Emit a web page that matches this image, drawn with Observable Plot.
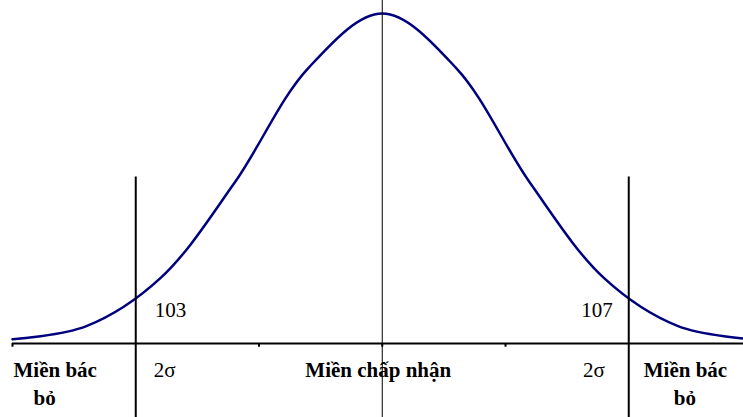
<!DOCTYPE html>
<html><head><meta charset="utf-8">
<script src="https://cdn.jsdelivr.net/npm/d3@7"></script>
<script src="https://cdn.jsdelivr.net/npm/@observablehq/plot@0.6"></script>
<style>html,body{margin:0;padding:0;background:#fff}</style>
</head><body><div id="chart"></div>
<script>
const xs = [102, 102.6, 103.2, 103.8, 104.4, 105, 105.6, 106.2, 106.8, 107.4, 108];
const ys = [0.005, 0.021, 0.079, 0.194, 0.333, 0.399, 0.333, 0.194, 0.079, 0.021, 0.005];
const limits = [103, 107];
const limitLabels = ["103", "107"];
const sigmaLabels = ["2σ", "2σ"];
const tickValues = [102, 104, 105, 106, 108];
const center = 105;
const rejectLine1 = "Miền bác";
const rejectLine2 = "bỏ";
const acceptLabel = "Miền chấp nhận";

const curve = xs.map((x, i) => ({x, y: ys[i]}));

const serif = "'Liberation Serif', 'Times New Roman', serif";

const chart = Plot.plot({
  width: 743,
  height: 417,
  margin: 0,
  x: {domain: [102, 108], range: [12, 751.5], axis: null},
  y: {domain: [0, 0.399], range: [343, 13], axis: null},
  style: {fontFamily: serif, fontSize: "21px", background: "#fff", overflow: "hidden"},
  marks: [
    Plot.line(curve, {x: "x", y: "y", curve: "catmull-rom", stroke: "#00007f", strokeWidth: 2.5}),
    Plot.ruleY([0], {x1: 102, x2: 108, stroke: "#000", strokeWidth: 2}),
    Plot.ruleX(tickValues, {y1: 0, y2: -0.0045, stroke: "#000", strokeWidth: 2}),
    Plot.ruleX([center], {y1: -0.2, y2: 0.5, stroke: "#000", strokeWidth: 1}),
    Plot.ruleX(limits, {y1: -0.2, y2: 0.2013, stroke: "#000", strokeWidth: 2}),
    // limit values
    Plot.text([limitLabels[0]], {x: limits[0], y: 0, dx: 19, dy: -33, textAnchor: "start", fill: "#000"}),
    Plot.text([limitLabels[1]], {x: limits[1], y: 0, dx: -16, dy: -33, textAnchor: "end", fill: "#000"}),
    // 2 sigma
    Plot.text([sigmaLabels[0]], {x: limits[0], y: 0, dx: 18, dy: 27, textAnchor: "start", fill: "#000"}),
    Plot.text([sigmaLabels[1]], {x: limits[1], y: 0, dx: -24, dy: 27, textAnchor: "end", fill: "#000"}),
    // acceptance region
    Plot.text([acceptLabel], {x: center, y: 0, dx: -4, dy: 27, textAnchor: "middle", fontWeight: "bold", fill: "#000"}),
    // rejection regions
    Plot.text([rejectLine1], {x: 102, y: 0, dx: 1, dy: 27, textAnchor: "start", fontWeight: "bold", fill: "#000"}),
    Plot.text([rejectLine2], {x: 102, y: 0, dx: 21, dy: 55, textAnchor: "start", fontWeight: "bold", fill: "#000"}),
    Plot.text([rejectLine1], {x: limits[1], y: 0, dx: 15, dy: 27, textAnchor: "start", fontWeight: "bold", fill: "#000"}),
    Plot.text([rejectLine2], {x: limits[1], y: 0, dx: 45, dy: 55, textAnchor: "start", fontWeight: "bold", fill: "#000"})
  ]
});
document.getElementById("chart").appendChild(chart);
</script>
</body></html>
